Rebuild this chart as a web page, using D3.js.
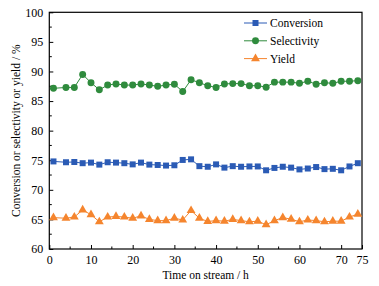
<!DOCTYPE html>
<html>
<head>
<meta charset="utf-8">
<script src="https://cdn.jsdelivr.net/npm/d3@7"></script>
<style>
body { margin: 0; background: #fff; }
svg text { font-family: "Liberation Serif", "Times New Roman", serif; fill: #000; }
</style>
</head>
<body>
<div id="chart"></div>
<script>
var hours = [1,4,6,8,10,12,14,16,18,20,22,24,26,28,30,32,34,36,38,40,42,44,46,48,50,52,54,56,58,60,62,64,66,68,70,72,74];

var conversion = [74.8,74.66,74.7,74.5,74.6,74.26,74.66,74.6,74.5,74.3,74.6,74.26,74.2,74.1,74.15,75.05,75.15,74.0,73.9,74.3,73.75,74.0,73.9,73.95,73.95,73.3,73.7,73.9,73.75,73.45,73.6,73.85,73.5,73.55,73.3,73.95,74.5];

var selectivity = [87.15,87.3,87.3,89.5,88.1,86.9,87.7,87.9,87.7,87.7,87.9,87.7,87.5,87.7,87.85,86.6,88.6,88.1,87.6,87.3,87.9,87.95,87.95,87.6,87.6,87.35,88.2,88.2,88.2,88.0,88.35,87.85,88.1,88.0,88.35,88.35,88.45];

var yieldVals = [65.3,65.2,65.4,66.6,65.8,64.6,65.4,65.5,65.4,65.2,65.6,65.0,64.8,64.8,65.2,64.9,66.5,65.2,64.65,64.8,64.7,65.0,64.8,64.6,64.7,64.1,64.8,65.3,65.05,64.6,64.9,64.8,64.6,64.7,64.7,65.4,65.9];

var xTickLabels = [0,10,20,30,40,50,60,70,75];
var yTickLabels = [60,65,70,75,80,85,90,95,100];
var seriesNames = ["Conversion","Selectivity","Yield"];

var W = 379, H = 286;
var margin = {left: 49.3, right: 17, top: 12.3, bottom: 37};

var svg = d3.select("#chart").append("svg")
    .attr("width", W)
    .attr("height", H);

var x = d3.scaleLinear().domain([0, 75]).range([margin.left, W - margin.right]);
var y = d3.scaleLinear().domain([60, 100]).range([H - margin.bottom, margin.top]);

var series = [
    {name: seriesNames[0], values: conversion, color: "#2b5bb5", shape: d3.symbolSquare, size: 36},
    {name: seriesNames[1], values: selectivity, color: "#2f8b3d", shape: d3.symbolCircle, size: 38},
    {name: seriesNames[2], values: yieldVals, color: "#f5852e", shape: d3.symbolTriangle, size: 34}
];

// minor ticks
var xMinor = d3.range(5, 75, 10);
var yMinor = d3.range(62.5, 100, 5);

svg.append("g").selectAll("line").data(xMinor).join("line")
    .attr("x1", function(d){ return x(d); }).attr("x2", function(d){ return x(d); })
    .attr("y1", y(60)).attr("y2", y(60) - 2.5)
    .attr("stroke", "#000").attr("stroke-width", 1);

svg.append("g").selectAll("line").data(yMinor).join("line")
    .attr("x1", x(0)).attr("x2", x(0) + 2.5)
    .attr("y1", function(d){ return y(d); }).attr("y2", function(d){ return y(d); })
    .attr("stroke", "#000").attr("stroke-width", 1);

// axes
var xAxis = svg.append("g")
    .attr("transform", "translate(0," + y(60) + ")")
    .call(d3.axisBottom(x).tickValues(xTickLabels).tickSizeInner(-4).tickSizeOuter(0).tickPadding(6));
xAxis.select(".domain").remove();
xAxis.selectAll("text").attr("font-size", 12).attr("font-family", "Liberation Serif");

var yAxis = svg.append("g")
    .attr("transform", "translate(" + x(0) + ",0)")
    .call(d3.axisLeft(y).tickValues(yTickLabels).tickSizeInner(-4).tickSizeOuter(0).tickPadding(6));
yAxis.select(".domain").remove();
yAxis.selectAll("text").attr("font-size", 12).attr("font-family", "Liberation Serif");

// frame
svg.append("rect")
    .attr("x", x(0)).attr("y", y(100))
    .attr("width", x(75) - x(0)).attr("height", y(60) - y(100))
    .attr("fill", "none").attr("stroke", "#000").attr("stroke-width", 1.2);

// series
var line = d3.line()
    .x(function(d, i){ return x(hours[i]); })
    .y(function(d){ return y(d); });

series.forEach(function(s){
    svg.append("path")
        .datum(s.values)
        .attr("d", line)
        .attr("fill", "none")
        .attr("stroke", s.color)
        .attr("stroke-width", 1);

    svg.append("g").selectAll("path").data(s.values).join("path")
        .attr("transform", function(d, i){ return "translate(" + x(hours[i]) + "," + y(d) + ")"; })
        .attr("d", d3.symbol().type(s.shape).size(s.size))
        .attr("fill", s.color);
});

// legend
var legend = svg.append("g");
series.forEach(function(s, i){
    var ly = 23 + i * 17.8;
    legend.append("line")
        .attr("x1", 244).attr("x2", 267).attr("y1", ly).attr("y2", ly)
        .attr("stroke", s.color).attr("stroke-width", 1);
    legend.append("path")
        .attr("transform", "translate(255.5," + ly + ")")
        .attr("d", d3.symbol().type(s.shape).size(s.size))
        .attr("fill", s.color);
    legend.append("text")
        .attr("x", 270).attr("y", ly + 4)
        .attr("font-size", 11.5)
        .text(s.name);
});

// axis titles
svg.append("text")
    .attr("x", (x(0) + x(75)) / 2).attr("y", 279)
    .attr("text-anchor", "middle")
    .attr("font-size", 11.5)
    .text("Time on stream / h");

svg.append("text")
    .attr("transform", "translate(20," + ((y(60) + y(100)) / 2 + 0) + ") rotate(-90)")
    .attr("text-anchor", "middle")
    .attr("font-size", 11.5)
    .text("Conversion or selectivity or yield / %");
</script>
</body>
</html>
